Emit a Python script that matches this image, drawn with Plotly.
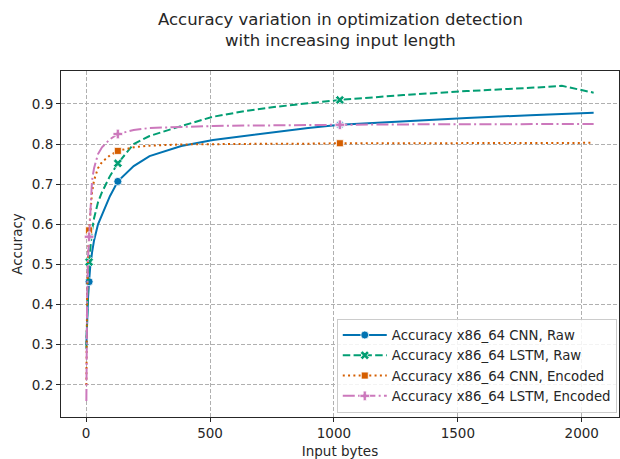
import plotly.graph_objects as go

# Input length in bytes
input_bytes = [1, 2, 4, 8, 12, 16, 24, 32, 48, 64, 96, 128, 192, 256, 384,
               512, 640, 768, 896, 1024, 1280, 1536, 1792, 1920, 2048]

# Accuracy per model / representation
cnn_raw = [0.30, 0.33, 0.37, 0.42, 0.457, 0.49, 0.53, 0.56, 0.60, 0.625, 0.67,
           0.707, 0.745, 0.77, 0.795, 0.81, 0.82, 0.83, 0.84, 0.848, 0.857,
           0.865, 0.872, 0.875, 0.878]
lstm_raw = [0.29, 0.33, 0.39, 0.46, 0.506, 0.54, 0.585, 0.615, 0.655, 0.68, 0.72,
            0.752, 0.80, 0.82, 0.845, 0.868, 0.882, 0.893, 0.902, 0.91, 0.922,
            0.932, 0.94, 0.945, 0.928]
cnn_enc = [0.20, 0.30, 0.42, 0.53, 0.585, 0.62, 0.68, 0.71, 0.74, 0.755, 0.772,
           0.783, 0.792, 0.796, 0.799, 0.80, 0.80, 0.801, 0.801, 0.802, 0.802,
           0.802, 0.803, 0.803, 0.803]
lstm_enc = [0.16, 0.28, 0.41, 0.52, 0.569, 0.63, 0.71, 0.74, 0.775, 0.792, 0.812,
            0.825, 0.835, 0.84, 0.843, 0.845, 0.846, 0.847, 0.847, 0.848, 0.849,
            0.849, 0.85, 0.85, 0.85]

# Positions (input bytes) that carry a marker on each curve
marked_bytes = [12, 128, 1024]

series = [
    ("Accuracy x86_64 CNN, Raw", cnn_raw, "#0173b2", "solid", "circle", 8),
    ("Accuracy x86_64 LSTM, Raw", lstm_raw, "#029e73", "7.5px,3.3px", "x", 8),
    ("Accuracy x86_64 CNN, Encoded", cnn_enc, "#d55e00", "2px,3.3px", "square", 7),
    ("Accuracy x86_64 LSTM, Encoded", lstm_enc, "#cc78bc", "12px,3.3px,2px,3.3px", "cross", 8),
]

FONT = "DejaVu Sans"
TXT = "#262626"
fig = go.Figure()

for name, vals, color, dash, symbol, size in series:
    fig.add_trace(go.Scatter(
        x=input_bytes, y=vals, mode="lines", showlegend=False,
        line=dict(color=color, width=2, dash=dash), hoverinfo="skip"))
    mx = [b for b in input_bytes if b in marked_bytes]
    my = [v for b, v in zip(input_bytes, vals) if b in marked_bytes]
    fig.add_trace(go.Scatter(
        x=mx, y=my, mode="markers", showlegend=False,
        marker=dict(color=color, symbol=symbol, size=size,
                    line=dict(color="white", width=0.8))))

for name, vals, color, dash, symbol, size in series:
    fig.add_trace(go.Scatter(
        x=[None], y=[None], mode="lines+markers", name=name,
        line=dict(color=color, width=2, dash=dash),
        marker=dict(color=color, symbol=symbol, size=size,
                    line=dict(color="white", width=0.8))))

axis_common = dict(
    showline=True, linecolor=TXT, linewidth=1, mirror=True,
    ticks="outside", ticklen=4, tickcolor=TXT, tickwidth=1,
    showgrid=True, gridcolor="#b0b0b0", gridwidth=1, griddash="4px,2px",
    zeroline=False, tickfont=dict(family=FONT, size=13.5, color=TXT),
)

fig.update_layout(
    width=620, height=459,
    margin=dict(l=61, r=1, t=71, b=42),
    paper_bgcolor="white", plot_bgcolor="white",
    font=dict(family=FONT, size=13.5, color=TXT),
    xaxis=dict(axis_common, range=[-101.35, 2150.35],
               tickvals=[0, 500, 1000, 1500, 2000],
               title=dict(text="Input bytes", font=dict(family=FONT, size=13.5), standoff=6)),
    yaxis=dict(axis_common, range=[0.12, 0.982],
               tickvals=[0.2, 0.3, 0.4, 0.5, 0.6, 0.7, 0.8, 0.9],
               tickformat=".1f",
               title=dict(text="Accuracy", font=dict(family=FONT, size=13.5), standoff=6)),
    legend=dict(
        x=0.996, y=0.012, xanchor="right", yanchor="bottom",
        bgcolor="rgba(255,255,255,0.85)", bordercolor="#cccccc", borderwidth=1,
        font=dict(family=FONT, size=13.3, color=TXT),
        itemwidth=44),
    annotations=[dict(
        text="Accuracy variation in optimization detection<br>with increasing input length",
        xref="paper", yref="paper", x=0.5, y=(417 - 30) / 346,
        xanchor="center", yanchor="middle", showarrow=False, align="center",
        font=dict(family=FONT, size=16.5, color=TXT))],
)

fig.write_html("out.html")
